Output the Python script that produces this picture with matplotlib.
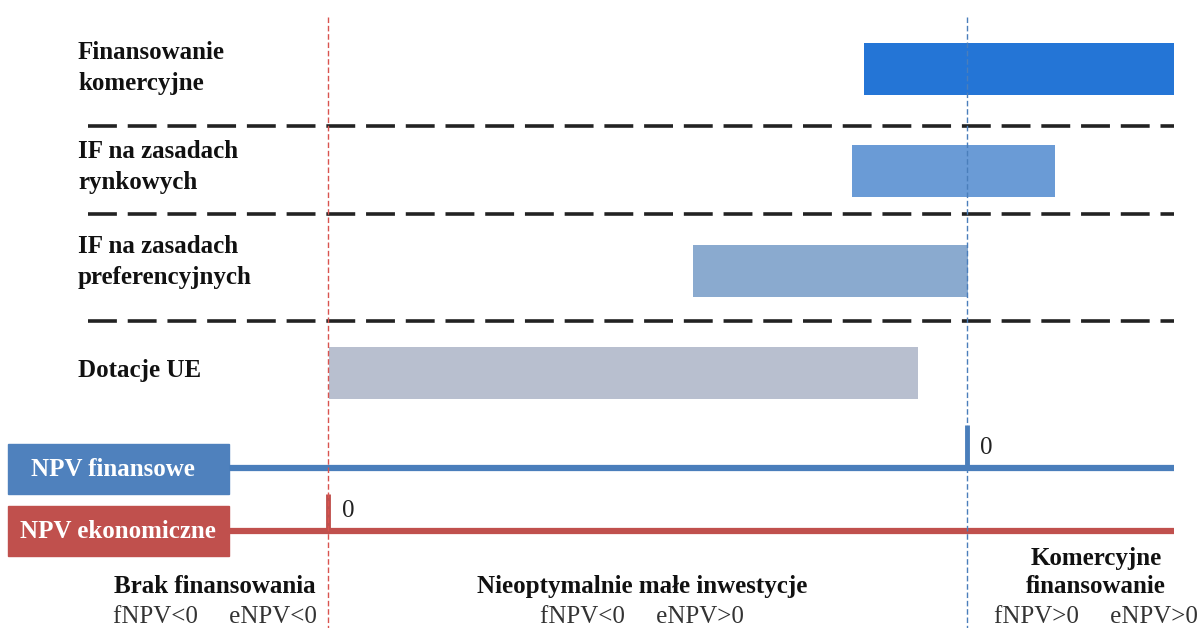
import matplotlib.pyplot as plt

plt.rcParams['font.family'] = ['Liberation Serif', 'DejaVu Serif']

# instruments and the NPV range each one covers (horizontal scale, left to right)
instruments = ['Finansowanie\nkomercyjne', 'IF na zasadach\nrynkowych',
               'IF na zasadach\npreferencyjnych', 'Dotacje UE']
range_start = [864, 852, 693, 329]
range_end = [1174, 1055, 968, 918]
bar_colors = ['#2475d6', '#6a9bd6', '#8aaacf', '#b8bfcf']
rows = [69, 171, 271, 373]
label_rows = [68, 167, 262, 371]

# zero points of both NPV axes
fnpv_zero = 967
enpv_zero = 328

zones = ['Brak finansowania', 'Nieoptymalnie małe inwestycje', 'Komercyjne\nfinansowanie']
zone_conditions = ['fNPV<0     eNPV<0', 'fNPV<0     eNPV>0', 'fNPV>0     eNPV>0']
zone_x = [215, 642, 1096]

fig = plt.figure(figsize=(12.01, 6.28), dpi=100)
ax = fig.add_axes([0, 0, 1, 1])
ax.set_xlim(0, 1201)
ax.set_ylim(628, 0)
ax.axis('off')

# range bars
ax.barh(rows, [e - s for s, e in zip(range_start, range_end)], left=range_start,
        height=52, color=bar_colors, zorder=2)

for y, name in zip(label_rows, instruments):
    ax.text(78, y, name, fontsize=18, fontweight='bold', va='center', ha='left',
            linespacing=1.4, color='#111111')

# separators between instruments
for y in [126, 214, 321]:
    ax.plot([88, 1174], [y, y], color='#222222', lw=2.6, dashes=(8, 3), zorder=1)

# zero lines
ax.plot([enpv_zero, enpv_zero], [17, 628], color='#d9534f', lw=1, ls=(0, (4, 2)), zorder=3)
ax.plot([fnpv_zero, fnpv_zero], [17, 628], color='#4a7ebb', lw=1, ls=(0, (4, 2)), zorder=3)

# NPV axes
ax.add_patch(plt.Rectangle((8, 444), 221, 50, color='#4f81bd', zorder=2))
ax.text(113, 469, 'NPV finansowe', color='white', fontsize=18, fontweight='bold',
        ha='center', va='center')
ax.plot([229, 1174], [468, 468], color='#4a7ebb', lw=4.5, solid_capstyle='butt')
ax.plot([fnpv_zero, fnpv_zero], [425, 468], color='#4a7ebb', lw=3.5, solid_capstyle='butt')
ax.text(980, 448, '0', fontsize=18, va='center', ha='left', color='#222222')

ax.add_patch(plt.Rectangle((8, 506), 221, 50, color='#c0504d', zorder=2))
ax.text(118, 531, 'NPV ekonomiczne', color='white', fontsize=18, fontweight='bold',
        ha='center', va='center')
ax.plot([229, 1174], [531, 531], color='#c0504d', lw=4.5, solid_capstyle='butt')
ax.plot([enpv_zero, enpv_zero], [494, 531], color='#c0504d', lw=3.5, solid_capstyle='butt')
ax.text(342, 511, '0', fontsize=18, va='center', ha='left', color='#222222')

# zone descriptions, written bottom line first
for x, name, cond in zip(zone_x, zones, zone_conditions):
    for i, line in enumerate(reversed(name.split('\n'))):
        ax.text(x, 593 - 28 * i, line, fontsize=18, fontweight='bold', ha='center',
                va='baseline', color='#111111')
    ax.text(x, 623, cond, fontsize=18, ha='center', va='baseline', color='#333333')

fig.savefig('out.png', dpi=100)
